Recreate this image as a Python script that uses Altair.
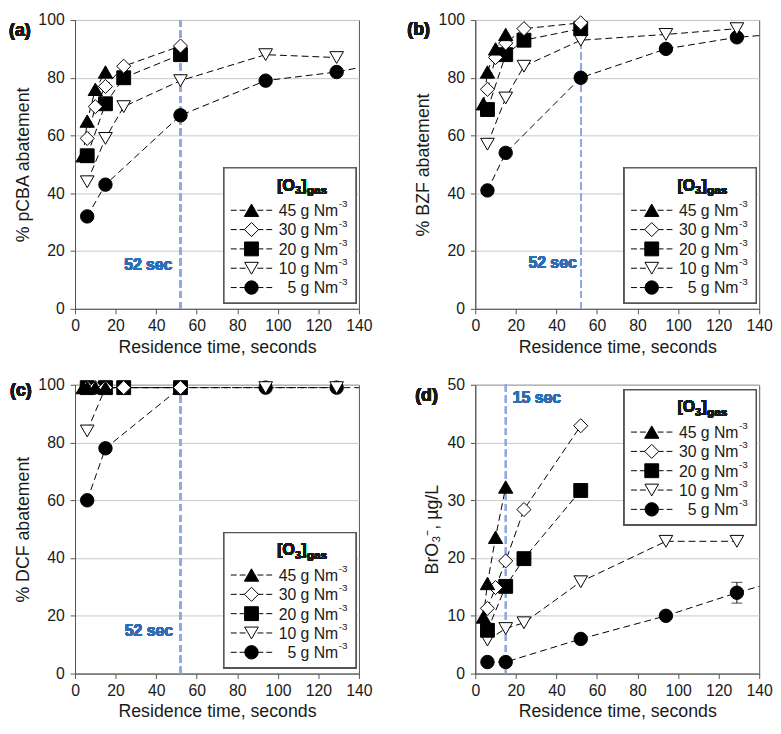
import altair as alt
import pandas as pd

FONT = "Liberation Sans"

# ---------------- data ----------------
KEYS = ["5", "10", "20", "30", "45"]          # drawing order
LEGEND_KEYS = ["45", "30", "20", "10", "5"]   # legend order
SHAPES = ["circle", "triangle-down", "square", "diamond", "triangle-up"]
FILLS = ["black", "white", "black", "white", "black"]
SIZES = [185, 210, 140, 215, 210]

# panel (a) pCBA
a_45_x = [4, 6, 10, 15];            a_45_y = [53, 65, 76, 82]
a_30_x = [6, 10, 15, 24, 52];       a_30_y = [59, 70, 77, 84, 91]
a_20_x = [6, 15, 24, 52];           a_20_y = [53, 71, 80, 88]
a_10_x = [6, 15, 24, 52, 94, 129];  a_10_y = [44, 59, 70, 79, 88, 87]
a_5_x = [6, 15, 52, 94, 129];       a_5_y = [32, 43, 67, 79, 82]
a_5_err = [0, 0, 1.5, 0, 0]
a_5_end = 83.5

# panel (b) BZF
b_45_x = [4, 6, 10, 15];            b_45_y = [71, 82, 90, 95]
b_30_x = [6, 10, 15, 24, 52];       b_30_y = [76, 87, 92, 97, 99]
b_20_x = [6, 15, 24, 52];           b_20_y = [69, 88, 93, 97]
b_10_x = [6, 15, 24, 52, 94, 129];  b_10_y = [57, 73, 84, 93, 95, 97]
b_5_x = [6, 15, 52, 94, 129];       b_5_y = [41, 54, 80, 90, 94]
b_5_err = [0, 1, 1.5, 0, 0]
b_5_end = 94.6

# panel (c) DCF
c_45_x = [4, 6, 10, 15];            c_45_y = [99, 99, 99, 99]
c_30_x = [6, 10, 15, 24, 52];       c_30_y = [99, 99, 99, 99, 99]
c_20_x = [6, 15, 24, 52];           c_20_y = [99, 99, 99, 99]
c_10_x = [6, 15, 24, 52, 94, 129];  c_10_y = [84, 99, 99, 99, 99, 99]
c_5_x = [6, 15, 52, 94, 129];       c_5_y = [60, 78, 99, 99, 99]
c_5_err = [0, 0, 0, 0, 0]
c_5_end = 99

# panel (d) bromate
d_45_x = [4, 6, 10, 15];            d_45_y = [9.8, 15.6, 23.6, 32.3]
d_30_x = [6, 10, 15, 24, 52];       d_30_y = [11.3, 14.9, 19.5, 28.4, 42.9]
d_20_x = [6, 15, 24, 52];           d_20_y = [7.5, 15.1, 19.9, 31.7]
d_10_x = [6, 15, 24, 52, 94, 129];  d_10_y = [5.8, 7.8, 8.8, 15.9, 22.9, 22.9]
d_5_x = [6, 15, 52, 94, 129];       d_5_y = [2.0, 2.0, 6.0, 10.0, 14.0]
d_5_err = [0, 0, 0, 0, 1.8]
d_5_end = 15.1

W, H = 288, 293


def build_frames(series, err5, end5):
    pts, lines, errs = [], [], []
    for k in KEYS:
        xs, ys = series[k]
        for i, (x, y) in enumerate(zip(xs, ys)):
            pts.append({"s": k, "x": x, "y": y})
            lines.append({"s": k, "x": x, "y": y})
            if k == "5" and err5[i] > 0:
                errs.append({"x": x, "lo": y - err5[i], "hi": y + err5[i]})
    lines.append({"s": "5", "x": 140, "y": end5})
    return pd.DataFrame(pts), pd.DataFrame(lines), pd.DataFrame(errs)


shape_enc = alt.Shape("s:N", scale=alt.Scale(domain=KEYS, range=SHAPES), legend=None)
fill_enc = alt.Fill("s:N", scale=alt.Scale(domain=KEYS, range=FILLS), legend=None)
size_enc = alt.Size("s:N", scale=alt.Scale(domain=KEYS, range=SIZES), legend=None)


def panel(series, err5, end5, ymax, ystep, ytitle, tag, tag_dx, tag_y,
          vx, vtext, vtext_x, vtext_y, vtext_align, leg_top):
    pts, lines, errs = build_frames(series, err5, end5)
    xs = alt.Scale(domain=[0, 140], nice=False, zero=False)
    ys = alt.Scale(domain=[0, ymax], nice=False)
    xaxis = alt.Axis(values=list(range(0, 141, 10)),
                     labelExpr="datum.value % 20 == 0 ? datum.label : ''",
                     labelOverlap=False, labelFlush=False, title="Residence time, seconds",
                     grid=False, tickSize=5, labelPadding=4, titlePadding=5)
    yaxis = alt.Axis(values=[v * ystep / 2 for v in range(0, int(2 * ymax / ystep) + 1)],
                     labelExpr=f"datum.value % {ystep} == 0 ? datum.label : ''",
                     labelOverlap=False, labelFlush=False, title=ytitle, grid=True,
                     tickSize=5, labelPadding=6, titlePadding=6)

    base_line = alt.Chart(lines).mark_line(color="black", strokeDash=[7, 4], strokeWidth=1).encode(
        x=alt.X("x:Q", scale=xs, axis=xaxis),
        y=alt.Y("y:Q", scale=ys, axis=yaxis),
        detail="s:N", order="x:Q")

    vline = alt.Chart(pts).mark_rule(color="#8fa9e3", strokeDash=[7, 4], strokeWidth=1.5).encode(
        x=alt.datum(vx))

    layers = [vline, base_line]
    if len(errs):
        eb = alt.Chart(errs).mark_rule(color="black", strokeWidth=1).encode(
            x="x:Q", y="lo:Q", y2="hi:Q")
        cap_lo = alt.Chart(errs).mark_tick(color="black", orient="horizontal", size=11, thickness=1).encode(
            x="x:Q", y="lo:Q")
        cap_hi = alt.Chart(errs).mark_tick(color="black", orient="horizontal", size=11, thickness=1).encode(
            x="x:Q", y="hi:Q")
        layers += [eb, cap_lo, cap_hi]

    points = alt.Chart(pts).mark_point(filled=True, stroke="black", strokeWidth=1,
                                       opacity=1, fillOpacity=1, strokeOpacity=1).encode(
        x="x:Q", y="y:Q", shape=shape_enc, fill=fill_enc, size=size_enc)
    layers.append(points)

    vt = alt.Chart(pts).mark_text(align=vtext_align, baseline="alphabetic", fontSize=16,
                                  fontWeight="bold", color="#2f6db5", font=FONT).encode(
        x=alt.datum(vtext_x), y=alt.datum(vtext_y), text=alt.value(vtext))
    layers.append(vt)

    tg = alt.Chart(pts).mark_text(align="left", baseline="alphabetic", fontSize=18,
                                  fontWeight="bold", color="#1a1a1a", font=FONT).encode(
        x=alt.value(tag_dx), y=alt.value(tag_y), text=alt.value(tag))
    layers.append(tg)

    # ---- legend box ----
    box = alt.Chart(pts).mark_rect(fill="white", stroke="#555555", strokeWidth=1.5).encode(
        x=alt.value(151), x2=alt.value(285), y=alt.value(leg_top), y2=alt.value(leg_top + 137))
    layers.append(box)
    tb = leg_top + 23
    for txt, xx, fs, dy in [("[O", 205, 16, 0), ("3", 223, 11, 4), ("]", 229.5, 16, 0), ("gas", 235, 12, 4)]:
        layers.append(alt.Chart(pts).mark_text(align="left", baseline="alphabetic", fontSize=fs,
                                               fontWeight="bold", color="#1a1a1a", font=FONT).encode(
            x=alt.value(xx), y=alt.value(tb + dy), text=alt.value(txt)))

    leg = pd.DataFrame({"s": LEGEND_KEYS,
                        "py": [leg_top + 43 + 19.6 * i for i in range(5)],
                        "lab": [f"{k} g Nm" for k in LEGEND_KEYS]})
    ly = alt.Y("py:Q", scale=None, axis=None)
    layers.append(alt.Chart(leg).mark_rule(color="black", strokeDash=[6, 3], strokeWidth=1).encode(
        x=alt.value(158), x2=alt.value(201), y=ly))
    layers.append(alt.Chart(leg).mark_point(filled=True, stroke="black", strokeWidth=1,
                                            opacity=1, fillOpacity=1).encode(
        x=alt.value(179), y=ly, shape=shape_enc, fill=fill_enc, size=size_enc))
    layers.append(alt.Chart(leg).mark_text(align="right", baseline="middle", fontSize=16,
                                           color="#1a1a1a", font=FONT, dy=1).encode(
        x=alt.value(267), y=ly, text="lab:N"))
    layers.append(alt.Chart(leg).mark_text(align="left", baseline="middle", fontSize=10,
                                           color="#1a1a1a", font=FONT, dy=-6).encode(
        x=alt.value(267.5), y=ly, text=alt.value("-3")))

    return alt.layer(*layers).properties(width=W, height=H)


pa = panel({"45": (a_45_x, a_45_y), "30": (a_30_x, a_30_y), "20": (a_20_x, a_20_y),
            "10": (a_10_x, a_10_y), "5": (a_5_x, a_5_y)}, a_5_err, a_5_end,
           100, 20, "% pCBA abatement", "(a)", -67, 16, 52, "52 sec", 48, 13.3, "right", 150)
pb = panel({"45": (b_45_x, b_45_y), "30": (b_30_x, b_30_y), "20": (b_20_x, b_20_y),
            "10": (b_10_x, b_10_y), "5": (b_5_x, b_5_y)}, b_5_err, b_5_end,
           100, 20, "% BZF abatement", "(b)", -69, 15, 52, "52 sec", 50, 14, "right", 150)
pc = panel({"45": (c_45_x, c_45_y), "30": (c_30_x, c_30_y), "20": (c_20_x, c_20_y),
            "10": (c_10_x, c_10_y), "5": (c_5_x, c_5_y)}, c_5_err, c_5_end,
           100, 20, "% DCF abatement", "(c)", -66, 11, 52, "52 sec", 48.3, 13, "right", 150)
pd_ = panel({"45": (d_45_x, d_45_y), "30": (d_30_x, d_30_y), "20": (d_20_x, d_20_y),
             "10": (d_10_x, d_10_y), "5": (d_5_x, d_5_y)}, d_5_err, d_5_end,
            50, 10, "BrO₃⁻, µg/L", "(d)", -61, 16, 15, "15 sec", 18.5, 46.9, "left", 5)

chart = alt.concat(pa, pb, pc, pd_, columns=2,
                   spacing={"row": 19, "column": 34}).properties(
    padding={"left": 0, "top": -2, "right": 0, "bottom": 0}
).configure_view(stroke="#555555", strokeWidth=1).configure_axis(
    labelFont=FONT, titleFont=FONT, labelFontSize=16, titleFontSize=18,
    titleFontWeight="normal", labelColor="#1a1a1a", titleColor="#1a1a1a",
    domainColor="#555555", tickColor="#555555", gridColor="#c8c8c8", gridWidth=1
).configure_text(font=FONT)

chart.save("out.html", embed_options={"renderer": "svg", "actions": False})
